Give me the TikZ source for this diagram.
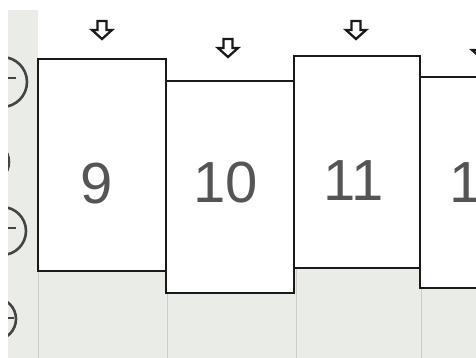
\documentclass[tikz,border=0pt]{standalone}
\usepackage{fontspec}
\setmainfont{Liberation Sans}
\definecolor{paper}{HTML}{EAEDE7}
\definecolor{gridln}{HTML}{C9CDC4}
\definecolor{holeln}{HTML}{444444}
\definecolor{numcol}{HTML}{555555}
\definecolor{edge}{HTML}{1A1A1A}
\tikzset{
  sheet/.style={draw=edge, line width=2.8pt, fill=white},
  numlabel/.style={inner sep=0pt, text=numcol, font=\fontsize{58}{60}\selectfont},
  hole/.style={draw=holeln, line width=2.6pt},
  faint/.style={draw=gridln, line width=0.6pt},
  pics/downarrow/.style={code={
    \draw[draw=edge, line width=2.3pt, line join=miter, fill=white]
      (-4.5,-9) -- (4.5,-9) -- (4.5,0) -- (10,0) -- (0,9) -- (-10,0) -- (-4.5,0) -- cycle;
  }}
}
\begin{document}
\begin{tikzpicture}[x=1pt,y=-1pt]
\useasboundingbox (0,0) rectangle (476,358);
\clip (0,0) rectangle (476,358);
\fill[white] (0,0) rectangle (476,358);
% textured paper areas
\fill[paper] (8,10) rectangle (38,358);
\fill[paper] (38,250) rectangle (476,358);
% faint grid lines
\draw[faint] (38,250) -- (38,358);
\draw[faint] (167,250) -- (167,358);
\draw[faint] (296,250) -- (296,358);
\draw[faint] (421,250) -- (421,358);
% binder holes at the left
\begin{scope}
\clip (8,10) rectangle (38,358);
\draw[hole] (2,82) circle (25);
\draw[hole] (8,78) -- (16,78);
\draw[hole] (-12,162) circle (21);
\draw[hole] (2,231) circle (24);
\draw[hole] (8,228) -- (16,228);
\draw[hole] (-5,319) circle (21);
\draw[hole] (8,318) -- (14,318);
\end{scope}
% sheets
\draw[sheet] (38,59) rectangle (166,271);
\draw[sheet] (166,81) rectangle (294,293);
\draw[sheet] (294,56) rectangle (420,268);
\draw[sheet] (420,77) rectangle (500,288);
% numbers
\node[numlabel] (n9) at (97,184) {9};
\node[numlabel] (n10) at (226,183) {10};
\node[numlabel] (n11) at (354,181) {11};
\node[numlabel] (n12) at (482,182) {12};
% arrows
\pic (a9) at (102,30) {downarrow};
\pic (a10) at (228,48) {downarrow};
\pic (a11) at (356,30) {downarrow};
\pic (a12) at (482,50) {downarrow};
\end{tikzpicture}
\end{document}
